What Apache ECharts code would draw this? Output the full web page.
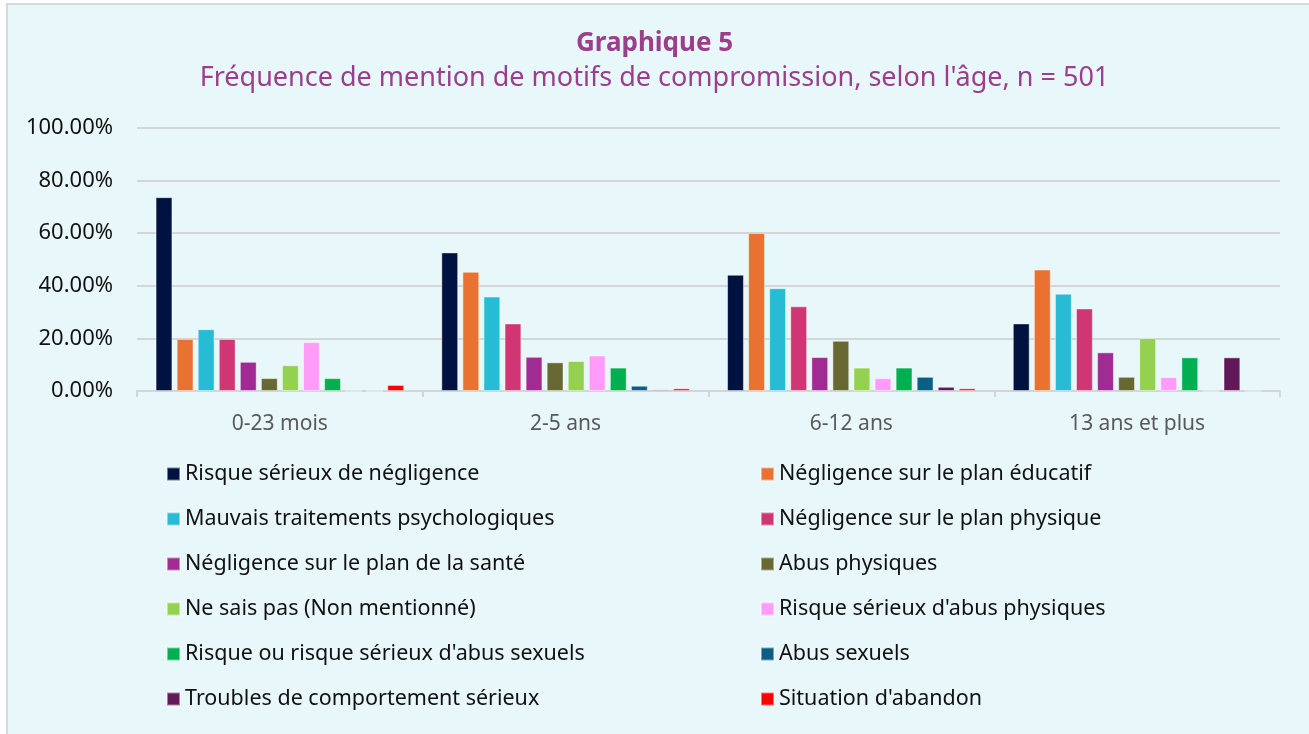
<!DOCTYPE html>
<html><head><meta charset="utf-8">
<script src="https://cdn.jsdelivr.net/npm/echarts@6/dist/echarts.min.js"></script>
<style>
html,body{margin:0;padding:0;background:#ffffff;}
#box{position:absolute;left:6px;top:3px;width:1310px;height:740px;background:#E8F7FA;border-left:2px solid #D6D9DA;border-top:2px solid #D6D9DA;}
#chart{position:absolute;left:0;top:0;width:1309px;height:734px;}
</style></head>
<body>
<div id="box"></div>
<div id="chart"></div>
<script>
const categories = ['0-23 mois', '2-5 ans', '6-12 ans', '13 ans et plus'];
const seriesNames = [
  'Risque sérieux de négligence',
  'Négligence sur le plan éducatif',
  'Mauvais traitements psychologiques',
  'Négligence sur le plan physique',
  'Négligence sur le plan de la santé',
  'Abus physiques',
  'Ne sais pas (Non mentionné)',
  "Risque sérieux d'abus physiques",
  "Risque ou risque sérieux d'abus sexuels",
  'Abus sexuels',
  'Troubles de comportement sérieux',
  "Situation d'abandon"
];
const risqueNegligence = [73.7, 52.7, 44.2, 25.7];
const negligenceEducatif = [19.8, 45.3, 60.1, 46.2];
const mauvaisTraitements = [23.5, 35.9, 39.1, 37.0];
const negligencePhysique = [19.8, 25.7, 32.2, 31.4];
const negligenceSante = [11.1, 13.0, 12.9, 14.7];
const abusPhysiques = [4.9, 10.9, 19.1, 5.4];
const neSaisPas = [9.8, 11.4, 8.9, 20.1];
const risqueAbusPhysiques = [18.6, 13.5, 4.9, 5.3];
const risqueAbusSexuels = [4.9, 8.9, 8.9, 12.8];
const abusSexuels = [0, 2.0, 5.4, 0];
const troublesComportement = [0, 0.6, 1.6, 12.8];
const situationAbandon = [2.3, 1.0, 1.0, 0];
const yTicks = [0, 20, 40, 60, 80, 100];

const seriesValues = [risqueNegligence, negligenceEducatif, mauvaisTraitements, negligencePhysique,
  negligenceSante, abusPhysiques, neSaisPas, risqueAbusPhysiques, risqueAbusSexuels, abusSexuels,
  troublesComportement, situationAbandon];
const colors = ['#001240', '#E97132', '#27BBD6', '#D03673', '#A02B93', '#686832',
  '#95D150', '#FF9CFA', '#00B050', '#0B5E84', '#611A57', '#FF0000'];

const chart = echarts.init(document.getElementById('chart'), null, {renderer: 'canvas'});
const font = 'Noto Sans';
const series = seriesNames.map((n, i) => ({
  name: n,
  type: 'bar',
  data: seriesValues[i],
  barGap: '25%',
  barCategoryGap: '13%',
  itemStyle: {color: colors[i], borderColor: 'rgba(255,255,255,0.45)', borderWidth: 1},
  emphasis: {disabled: true}
}));
const legendCommon = {
  orient: 'vertical',
  padding: 0,
  itemWidth: 13, itemHeight: 13, itemGap: 23,
  icon: 'rect',
  textStyle: {fontFamily: font, fontSize: 21.5, color: '#111111', lineHeight: 21},
  selectedMode: false
};
chart.setOption({
  backgroundColor: 'transparent',
  color: colors,
  animation: false,
  title: [
    {text: 'Graphique 5', left: 'center', top: 26,
     textStyle: {fontFamily: font, fontSize: 26, fontWeight: 'bold', color: '#9B3E8C'}},
    {text: "Fréquence de mention de motifs de compromission, selon l'âge, n = 501", left: 'center', top: 60,
     textStyle: {fontFamily: font, fontSize: 27, fontWeight: 'normal', color: '#9B3E8C'}}
  ],
  legend: [
    Object.assign({}, legendCommon, {left: 166, top: 463, data: seriesNames.filter((_, i) => i % 2 === 0)}),
    Object.assign({}, legendCommon, {left: 760, top: 463, data: seriesNames.filter((_, i) => i % 2 === 1)})
  ],
  grid: {left: 137, right: 29, top: 128, bottom: 343, containLabel: false},
  xAxis: {
    type: 'category',
    data: categories,
    axisLine: {lineStyle: {color: '#D5D5D5', width: 2}},
    axisTick: {show: true, length: 6, lineStyle: {color: '#D5D5D5', width: 2}},
    axisLabel: {fontFamily: font, fontSize: 21, color: '#595959', margin: 23}
  },
  yAxis: {
    type: 'value',
    min: 0, max: 100, interval: 20,
    axisLine: {show: false},
    axisTick: {show: false},
    splitLine: {lineStyle: {color: '#D5D5D5', width: 2}},
    axisLabel: {fontFamily: font, fontSize: 22, color: '#111111', margin: 24,
      formatter: v => yTicks.includes(v) ? v.toFixed(2) + '%' : ''}
  },
  series: series
});
</script>
</body></html>
